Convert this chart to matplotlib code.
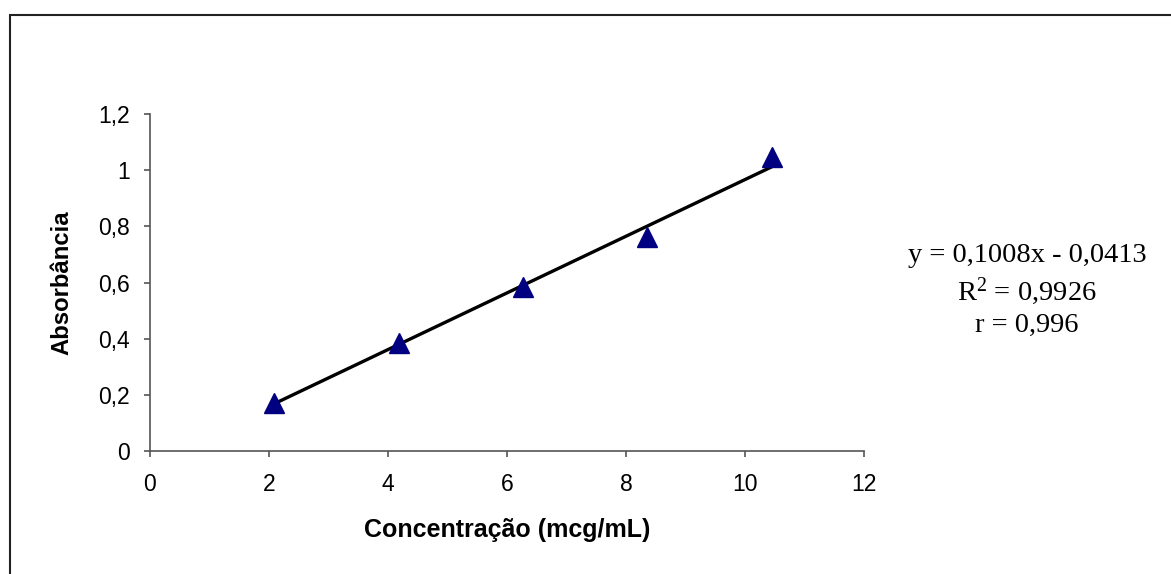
import matplotlib
matplotlib.use("Agg")
import matplotlib.pyplot as plt
from matplotlib.patches import Rectangle
import numpy as np

# Data
concentracao = [2.09, 4.18, 6.27, 8.36, 10.45]
absorbancia = [0.172, 0.384, 0.583, 0.763, 1.047]
slope = 0.1008
intercept = -0.0413
x_ticks = [0, 2, 4, 6, 8, 10, 12]
y_ticks = [0, 0.2, 0.4, 0.6, 0.8, 1.0, 1.2]
y_tick_labels = ["0", "0,2", "0,4", "0,6", "0,8", "1", "1,2"]
eq_lines = ["y = 0,1008x - 0,0413", "R$^2$ = 0,9926", "r = 0,996"]

plt.rcParams['font.family'] = ['Liberation Sans', 'DejaVu Sans']
plt.rcParams['mathtext.fontset'] = 'custom'
plt.rcParams['mathtext.rm'] = 'Liberation Serif'
plt.rcParams['mathtext.default'] = 'rm'

W, H = 1171, 574
fig = plt.figure(figsize=(W / 100, H / 100), dpi=100)
ax = fig.add_axes([150 / W, 1 - 451.3 / H, (864 - 150) / W, (451.3 - 114) / H])

# trend line
xl = np.array([min(concentracao), max(concentracao)])
ax.plot(xl, slope * xl + intercept, color='black', lw=2.4, solid_capstyle='round', zorder=2)
# data points
ax.plot(concentracao, absorbancia, linestyle='none', marker='^', ms=14,
        color='#000080', mec='#000080', zorder=3, clip_on=False)

ax.set_xlim(0, 12)
ax.set_ylim(0, 1.2)
ax.set_xticks(x_ticks)
ax.set_xticklabels([str(v) for v in x_ticks])
ax.set_yticks(y_ticks)
ax.set_yticklabels(y_tick_labels)

for s in ['top', 'right']:
    ax.spines[s].set_visible(False)
for s in ['left', 'bottom']:
    ax.spines[s].set_color('#555555')
    ax.spines[s].set_linewidth(1.2)
ax.tick_params(axis='both', direction='out', length=4.5, width=1.2, color='#555555',
               labelsize=16.5, labelcolor='black')
ax.tick_params(axis='y', pad=10)
ax.tick_params(axis='x', pad=11)

ax.set_xlabel("Concentração (mcg/mL)", fontsize=18, fontweight='bold')
ax.xaxis.set_label_coords(0.5, -0.233)
ax.xaxis.label.set_va('center')
ax.set_ylabel("Absorbância", fontsize=17.2, fontweight='bold')
ax.yaxis.set_label_coords(-0.123, 0.5)
ax.yaxis.label.set_va('center')

# equation text
ys = [255, 291, 325]
for t, yy in zip(eq_lines, ys):
    fig.text(1027 / W, 1 - yy / H, t, ha='center', va='center', fontsize=20.5,
             family='Liberation Serif')

# outer frame
fig.add_artist(Rectangle((10 / W, -0.2), 2, (1 - 15 / H) + 0.2, transform=fig.transFigure,
                         fill=False, lw=1.5, ec='#222222'))

fig.savefig("out.png", dpi=100)
